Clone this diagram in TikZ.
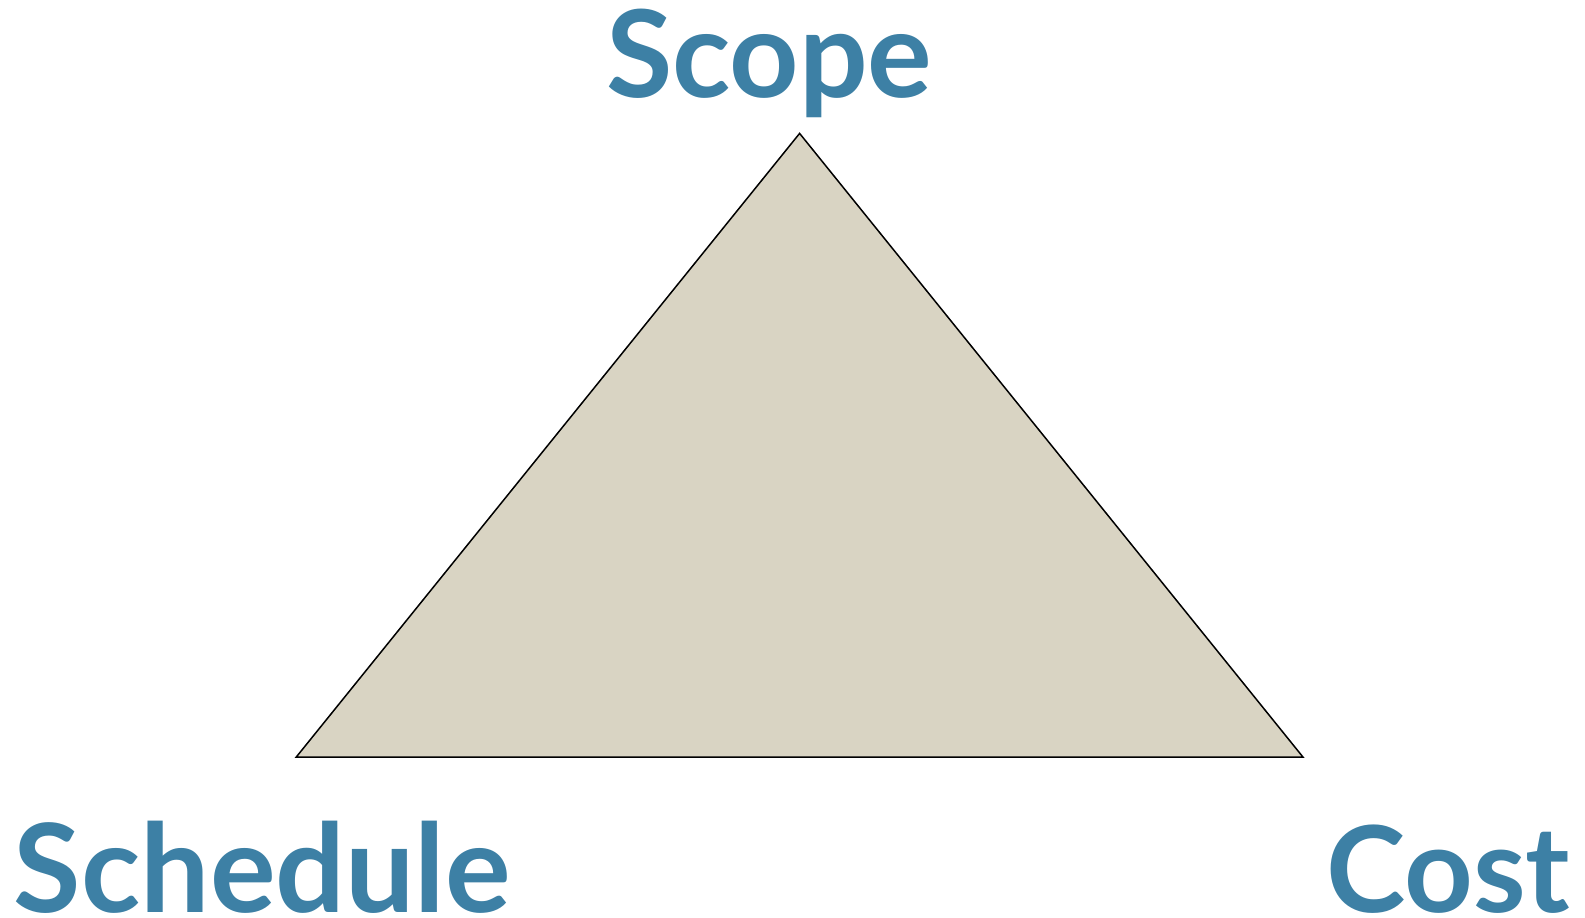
\documentclass[tikz,border=0pt]{standalone}
\usepackage{fontspec}
\setmainfont{Lato}
\usepackage{graphicx}
\definecolor{labelblue}{HTML}{3D80A5}
\definecolor{trifill}{HTML}{D9D4C3}
\tikzset{
  lbl/.style={inner sep=0pt, outer sep=0pt, text=labelblue, font=\bfseries, anchor=base west},
  tri/.style={draw=black, fill=trifill, line width=1.5pt, line join=miter}
}
\begin{document}
\begin{tikzpicture}[x=1pt,y=-1pt]
\useasboundingbox (0,0) rectangle (1585,918);
\coordinate (apex) at (799.6,133.4);
\coordinate (bl) at (296.2,757.1);
\coordinate (br) at (1303,757.1);
\draw[tri] (apex) -- (br) -- (bl) -- cycle;
\node[lbl] (scope) at (606,97) {\resizebox{326pt}{!}{Scope}};
\node[lbl] (schedule) at (14,912) {\resizebox{497pt}{!}{Schedule}};
\node[lbl] (cost) at (1326,912) {\resizebox{244pt}{!}{Cost}};
\end{tikzpicture}
\end{document}
